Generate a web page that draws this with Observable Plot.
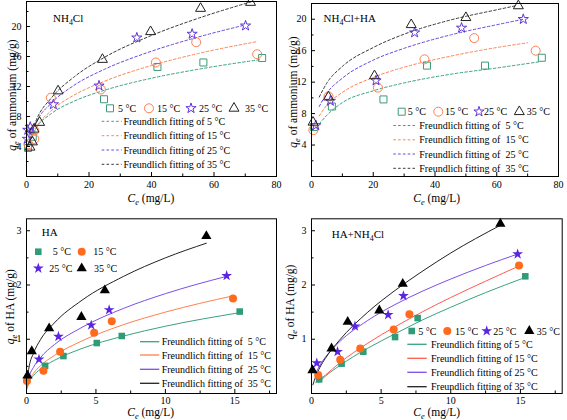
<!DOCTYPE html>
<html><head><meta charset="utf-8">
<script src="https://cdn.jsdelivr.net/npm/d3@7"></script>
<script src="https://cdn.jsdelivr.net/npm/@observablehq/plot@0.6"></script>
<style>
body{margin:0;background:#fff;}
#fig{position:relative;width:567px;height:420px;overflow:hidden;background:#fff;font-family:"Liberation Serif",serif;}
#fig svg{position:absolute;background:transparent;}
</style></head><body><div id="fig"></div>
<script>
// ================= DATA =================
const tempLabels = ["5 °C", "15 °C", "25 °C", "35 °C"];

// Panel a: NH4Cl  (Ce mg/L, qe of ammonium mg/g)
const a_5  = [[0.5,3.8],[2.0,5.3],[24.8,10.3],[41.9,14.6],[56.6,15.2],[75.4,15.8]];
const a_15 = [[0.6,4.3],[2.5,5.0],[2.5,6.1],[7.8,10.5],[23.8,11.6],[41.4,15.2],[54.3,17.9],[73.8,16.3]];
const a_25 = [[0.3,5.0],[0.4,6.2],[1.2,6.6],[8.6,9.6],[23.2,12.1],[35.3,18.5],[53.0,19.0],[70.1,20.1]];
const a_35 = [[1.1,3.9],[1.9,4.6],[2.4,6.3],[4.2,7.2],[10.1,11.4],[24.3,15.6],[39.7,19.3],[55.7,22.4],[71.7,23.2]];
const a_fit5  = [[1,4.7],[3,6.4],[8,8.4],[15,10.0],[25,11.5],[40,13.1],[55,14.3],[75,15.6]];
const a_fit15 = [[1,4.5],[3,6.4],[8,8.8],[15,10.8],[25,12.7],[40,14.8],[55,16.4],[74,18.0]];
const a_fit25 = [[1,4.9],[3,7.1],[8,9.8],[15,12.1],[25,14.3],[40,16.7],[55,18.6],[70,20.2]];
const a_fit35 = [[1,5.0],[3,7.4],[8,10.5],[15,13.2],[25,15.9],[40,18.8],[55,21.1],[72,23.3]];

// Panel b: NH4Cl+HA
const b_5  = [[0.8,6.3],[6.6,8.9],[23.3,9.8],[37.4,14.1],[56.2,14.1],[74.6,15.1]];
const b_15 = [[0.6,5.9],[5.5,10.2],[21.5,11.3],[36.6,14.9],[52.7,17.6],[72.6,16.0]];
const b_25 = [[1.4,6.5],[6.1,9.6],[20.9,12.2],[33.4,18.3],[48.6,18.9],[68.6,20.0]];
const b_35 = [[0.5,6.9],[5.5,10.1],[20.4,12.8],[32.3,19.3],[50.0,20.2],[67.0,21.7]];
const b_fit5  = [[1.5,6.2],[5,7.8],[10,9.4],[20,10.9],[30,11.9],[45,13.0],[60,13.8],[74,14.6]];
const b_fit15 = [[2.5,7.7],[5,9.1],[10,10.7],[20,12.6],[30,13.9],[45,15.3],[60,16.4],[70,17.0]];
const b_fit25 = [[2.5,8.9],[5,10.6],[10,12.5],[20,14.8],[30,16.3],[45,18.0],[60,19.3],[68.6,20.0]];
const b_fit35 = [[2.5,10.1],[5,11.9],[10,14.0],[20,16.4],[30,18.1],[45,19.9],[60,21.2],[66,21.7]];

// Panel c: HA  (Ce mg/L, qe of HA mg/g)
const c_5  = [[1.34,0.51],[2.66,0.69],[5.06,0.93],[6.86,1.06],[15.35,1.51]];
const c_15 = [[0.03,0.23],[1.22,0.42],[2.42,0.77],[4.87,1.12],[6.14,1.33],[14.87,1.75]];
const c_25 = [[0.9,0.63],[2.3,1.05],[4.66,1.26],[5.95,1.54],[14.41,2.17]];
const c_35 = [[0.07,0.33],[0.38,0.78],[1.63,1.2],[3.95,1.41],[5.64,1.9],[12.95,2.9]];
const c_fit5  = [[0.02,0.08],[0.2,0.22],[0.5,0.33],[1,0.45],[2,0.61],[4,0.83],[7,1.06],[10,1.24],[15.35,1.49]];
const c_fit15 = [[0.02,0.08],[0.2,0.24],[0.5,0.37],[1,0.51],[2,0.70],[4,0.97],[7,1.27],[10,1.50],[14.87,1.80]];
const c_fit25 = [[0.02,0.12],[0.2,0.32],[0.5,0.48],[1,0.66],[2,0.90],[4,1.22],[7,1.57],[10,1.84],[14.41,2.16]];
const c_fit35 = [[0.02,0.2],[0.2,0.51],[0.5,0.74],[1,0.99],[2,1.30],[4,1.72],[7,2.16],[10,2.50],[12.95,2.77]];

// Panel d: HA+NH4Cl
const d_5  = [[0.55,0.26],[2.16,0.55],[3.72,0.77],[6.0,1.04],[7.62,1.39],[15.35,2.16]];
const d_15 = [[0.48,0.34],[2.06,0.62],[3.5,0.83],[5.9,1.18],[7.03,1.46],[14.9,2.36]];
const d_25 = [[0.38,0.56],[1.87,0.77],[3.12,1.24],[5.5,1.45],[6.6,1.8],[14.8,2.57]];
const d_35 = [[0.07,0.43],[1.44,0.83],[2.6,1.32],[4.87,1.53],[6.55,2.02],[13.56,3.13]];
const d_fit5  = [[0.5,0.2],[1,0.32],[2,0.51],[4,0.83],[6,1.1],[8,1.36],[10,1.59],[12.5,1.86],[15.35,2.14]];
const d_fit15 = [[0.3,0.2],[0.5,0.24],[1,0.34],[2,0.56],[4,0.92],[6,1.23],[8,1.51],[10,1.77],[12.5,2.07],[14.9,2.35]];
const d_fit25 = [[0.3,0.37],[0.6,0.52],[1,0.67],[2,0.95],[4,1.34],[6,1.64],[8,1.89],[10,2.11],[12.5,2.36],[14.8,2.57]];
const d_fit35 = [[0.1,0.16],[0.3,0.31],[0.6,0.48],[1,0.65],[2,0.98],[4,1.49],[6,1.9],[8,2.26],[10,2.59],[13.56,3.1]];

// tick values
const topXTicks = [0,20,40,60,80], topXMinor = [10,30,50,70];
const topYTicks = [4,8,12,16,20];
const botXTicks = [0,5,10,15], botXMinor = [2.5,7.5,12.5,17.5];
const botYTicks = [1,2,3], botYMinor = [0.5,1.5,2.5];

// ================= STYLE =================
const FONT = "Liberation Serif, Times New Roman, serif";
const symbols = ["square","circle","star","triangle"];
const d3symbols = [d3.symbolSquare, d3.symbolCircle, d3.symbolStar, d3.symbolTriangle];
const markColor = ["#2e9c78","#ff6a1c","#5b24e0","#000000"];
const hollowColor = ["#3a9c7a","#ff7d50","#5f35dc","#222222"];
const topLine = ["#3aa37e","#ff8455","#6a48e2","#3a3a3a"];
const cLine = ["#3aa37e","#ff7f50","#7b4fe6","#222222"];
const dLine = ["#3aa37e","#ff5a4e","#7b4fe6","#222222"];
const rTop = [3.95,4.5,3.2,3.7];
const rBot = [3.7,4.0,3.4,3.8];

const fig = document.getElementById("fig");
const xy = {x: d => d[0], y: d => d[1]};

function makePanel(cfg) {
  const {left, top, width, height, mL, mR, mT, mB, xDomain, yDomain,
         xTicks, xMinor, yTicks, yMinor, sets, fits, hollow, lineColors, xPad} = cfg;
  const fw = width - mL - mR, fh = height - mT - mB;
  const marks = [
    Plot.tickX(xTicks, {x: d => d, insetTop: fh - 4, stroke: "#000"}),
    Plot.tickX(xMinor, {x: d => d, insetTop: fh - 2.5, stroke: "#000"}),
    Plot.tickY(yTicks, {y: d => d, insetRight: fw - 4, stroke: "#000"}),
    Plot.tickY(yMinor, {y: d => d, insetRight: fw - 2.5, stroke: "#000"}),
    Plot.axisX({ticks: xTicks, tickSize: 0, tickPadding: xPad, label: null, tickFormat: d => String(d)}),
    Plot.axisY({ticks: yTicks, tickSize: 0, tickPadding: 5, label: null, tickFormat: d => String(d)})
  ];
  fits.forEach((f, i) => marks.push(Plot.line(f, {...xy, curve: "monotone-x", stroke: lineColors[i],
      strokeWidth: 1, strokeDasharray: hollow ? "2.6,2.2" : null})));
  sets.forEach((s, i) => marks.push(Plot.dot(s, {...xy, symbol: symbols[i],
      r: hollow ? rTop[i] : rBot[i],
      stroke: hollow ? hollowColor[i] : "none",
      fill: hollow ? "none" : markColor[i], strokeWidth: 1})));
  marks.push(Plot.frame({stroke: "#000", strokeWidth: 1}));
  const svg = Plot.plot({
    width, height, marginLeft: mL, marginRight: mR, marginTop: mT, marginBottom: mB,
    x: {domain: xDomain}, y: {domain: yDomain},
    style: {fontFamily: FONT, fontSize: "10px", color: "#000", background: "transparent", overflow: "visible"},
    marks
  });
  svg.style.position = "absolute";
  svg.style.left = left + "px";
  svg.style.top = top + "px";
  fig.appendChild(svg);
  return d3.select(svg);
}

// rich text: parts = strings or {t, sub, i}
function rich(g, x, y, parts, size, anchor = "start", rotate = 0) {
  const t = g.append("text").attr("x", x).attr("y", y).attr("font-size", size)
    .attr("font-family", FONT).attr("text-anchor", anchor).attr("fill", "#000");
  if (rotate) t.attr("transform", `rotate(${rotate},${x},${y})`);
  let shifted = false;
  parts.forEach(p => {
    const o = typeof p === "string" ? {t: p} : p;
    const ts = t.append("tspan").text(o.t);
    if (o.i) ts.attr("font-style", "italic");
    if (o.sub) { ts.attr("font-size", size * 0.72).attr("dy", size * 0.3); shifted = true; }
    else if (shifted) { ts.attr("dy", -size * 0.3); shifted = false; }
  });
  return t;
}
function legendSym(g, i, cx, cy, hollow) {
  const r = hollow ? rTop[i] : rBot[i];
  g.append("path").attr("d", d3.symbol(d3symbols[i], Math.PI * r * r)())
    .attr("transform", `translate(${cx},${cy})`)
    .attr("fill", hollow ? "none" : markColor[i])
    .attr("stroke", hollow ? hollowColor[i] : "none").attr("stroke-width", 1);
}
function legendLine(g, x1, x2, y, color, dashed) {
  g.append("line").attr("x1", x1).attr("x2", x2).attr("y1", y).attr("y2", y)
    .attr("stroke", color).attr("stroke-width", dashed ? 1 : 1.3)
    .attr("stroke-dasharray", dashed ? "2.6,2.2" : null);
}
const xTitle = [{t: "C", i: true}, {t: "e", i: true, sub: true}, " (mg/L)"];
const yTitleA = [{t: "q", i: true}, {t: "e", i: true, sub: true}, " of ammonium (mg/g)"];
const yTitleH = [{t: "q", i: true}, {t: "e", i: true, sub: true}, " of HA (mg/g)"];
const fitText = (k, dbl) => `Freundlich fitting of ${dbl ? "\u00a0" : ""}${tempLabels[k]}`;

// ---------- Panel a ----------
let g = makePanel({left: 0, top: 0, width: 283, height: 205, mL: 26, mR: 7, mT: 1, mB: 29,
  xDomain: [0, 80], yDomain: [0, 23.33], xTicks: topXTicks, xMinor: topXMinor,
  yTicks: topYTicks, yMinor: [2,6,10,14,18,22], xPad: 4,
  sets: [a_5, a_15, a_25, a_35], fits: [a_fit5, a_fit15, a_fit25, a_fit35], hollow: true, lineColors: topLine});
rich(g, 151, 201.5, xTitle, 11.5, "middle");
rich(g, 15.5, 95, yTitleA, 11.5, "middle", -90);
rich(g, 53, 22, ["NH", {t: "4", sub: true}, "Cl"], 11);
[[110,118],[149,157],[191,199],[234,245]].forEach(([cx, tx], i) => {
  legendSym(g, i, cx, 108.3, true);
  rich(g, tx, 112, [tempLabels[i]], 10);
});
[121.3, 135.7, 150, 164.3].forEach((y, i) => {
  legendLine(g, 101.7, 121.7, y, topLine[i], true);
  rich(g, 123.5, y + 3.5, [fitText(i, false)], 10);
});

// ---------- Panel b ----------
g = makePanel({left: 283, top: 0, width: 284, height: 205, mL: 28, mR: 9, mT: 3, mB: 29,
  xDomain: [0, 80], yDomain: [0, 22], xTicks: topXTicks, xMinor: topXMinor,
  yTicks: topYTicks, yMinor: [2,6,10,14,18], xPad: 4,
  sets: [b_5, b_15, b_25, b_35], fits: [b_fit5, b_fit15, b_fit25, b_fit35], hollow: true, lineColors: topLine});
rich(g, 153.7, 201.5, xTitle, 11.5, "middle");
rich(g, 14, 92, yTitleA, 11.5, "middle", -90);
rich(g, 40.5, 22, ["NH", {t: "4", sub: true}, "Cl+HA"], 11);
[[118.7,124.7],[155.3,162],[196,201],[236.3,243.7]].forEach(([cx, tx], i) => {
  legendSym(g, i, cx, 111.7, true);
  rich(g, tx, 115.4, [tempLabels[i]], 10);
});
[125.5, 139.8, 154, 168.3].forEach((y, i) => {
  legendLine(g, 110.3, 132, y, topLine[i], true);
  rich(g, 136.3, y + 3.5, [fitText(i, true)], 10);
});

// ---------- Panel c ----------
g = makePanel({left: 0, top: 205, width: 283, height: 215, mL: 26, mR: 7, mT: 13.3, mB: 27,
  xDomain: [0, 18], yDomain: [0, 3.22], xTicks: botXTicks, xMinor: botXMinor,
  yTicks: botYTicks, yMinor: botYMinor, xPad: 3,
  sets: [c_5, c_15, c_25, c_35], fits: [c_fit5, c_fit15, c_fit25, c_fit35], hollow: false, lineColors: cLine});
rich(g, 150.7, 210.5, xTitle, 11.5, "middle");
rich(g, 14, 101.7, yTitleH, 11.5, "middle", -90);
rich(g, 41.7, 30.5, ["HA"], 11);
[[38.3,52.7,46.7],[81.7,93.3,46.7],[38.3,49.3,63.3],[81.7,94,63.3]].forEach(([cx, tx, y], i) => {
  legendSym(g, i, cx, y, false);
  rich(g, tx, y + 3.7, [tempLabels[i]], 10);
});
[136.7, 150, 164.3, 178.3].forEach((y, i) => {
  legendLine(g, 140, 159.3, y, cLine[i], false);
  rich(g, 161.7, y + 3.5, [fitText(i, true)], 10);
});

// ---------- Panel d ----------
g = makePanel({left: 283, top: 205, width: 284, height: 215, mL: 28, mR: 5.3, mT: 13.3, mB: 27,
  xDomain: [0, 18], yDomain: [0, 3.22], xTicks: botXTicks, xMinor: botXMinor,
  yTicks: botYTicks, yMinor: botYMinor, xPad: 3,
  sets: [d_5, d_15, d_25, d_35], fits: [d_fit5, d_fit15, d_fit25, d_fit35], hollow: false, lineColors: dLine});
rich(g, 153.7, 211, xTitle, 11.5, "middle");
rich(g, 11, 97, yTitleH, 11.5, "middle", -90);
rich(g, 48.7, 33, ["HA+NH", {t: "4", sub: true}, "Cl"], 11);
[[128.7,135.3],[164.3,172],[203.7,210.3],[246.3,253.7]].forEach(([cx, tx], i) => {
  legendSym(g, i, cx, 126, false);
  rich(g, tx, 129.7, [tempLabels[i]], 10);
});
[139.3, 153.3, 167.3, 181.7].forEach((y, i) => {
  legendLine(g, 124.3, 143.7, y, dLine[i], false);
  rich(g, 148, y + 3.5, [fitText(i, false)], 10);
});
</script></body></html>
